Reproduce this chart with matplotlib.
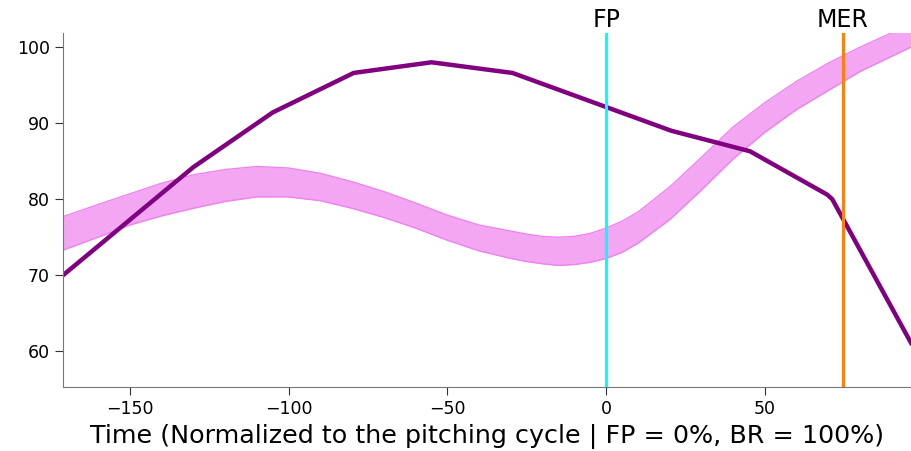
import matplotlib
matplotlib.use('Agg')
import matplotlib.pyplot as plt

# pitcher's curve
pitch_x = [-171, -130, -105, -79.5, -55, -29.5, 20.5, 45.3, 69.6, 71.2, 96]
pitch_y = [70.0, 84.2, 91.4, 96.6, 98.0, 96.6, 89.0, 86.3, 80.6, 80.0, 61.1]

# reference band
band_x = [-171, -160, -150, -140, -130, -120, -110, -100, -90, -80, -70, -60, -50, -40,
          -30, -25, -20, -15, -10, -5, 0, 5, 10, 20, 30, 40, 50, 60, 70, 80, 90, 96]
band_hi = [77.7, 79.3, 80.7, 82.1, 83.2, 83.9, 84.3, 84.1, 83.4, 82.3, 81.0, 79.5, 77.9, 76.6,
           75.8, 75.4, 75.1, 75.0, 75.1, 75.5, 76.2, 77.1, 78.3, 81.6, 85.5, 89.5, 92.7, 95.5,
           97.9, 100.0, 101.9, 103.0]
band_lo = [73.3, 75.0, 76.6, 77.8, 78.8, 79.7, 80.3, 80.3, 79.8, 78.8, 77.6, 76.2, 74.6, 73.2,
           72.2, 71.8, 71.5, 71.3, 71.4, 71.7, 72.2, 73.0, 74.2, 77.3, 81.2, 85.3, 88.8, 91.8,
           94.3, 96.8, 98.8, 100.0]

events = {'FP': 0, 'MER': 74.5}
event_colors = {'FP': 'cyan', 'MER': '#ff7f0e'}

fig = plt.figure(figsize=(9.11, 4.51), dpi=100)
ax = fig.add_axes([0.0692, 0.1419, 0.9308, 0.7849])

ax.fill_between(band_x, band_lo, band_hi, color='violet', alpha=0.7, lw=0)
ax.plot(band_x, band_hi, color='violet', lw=1)
ax.plot(band_x, band_lo, color='violet', lw=1)
ax.plot(pitch_x, pitch_y, color='purple', lw=3.2)

for name, xv in events.items():
    ax.axvline(xv, color=event_colors[name], lw=2.2)
    ax.text(xv, 102.0, name, ha='center', va='bottom', fontsize=17)

ax.set_xlim(-171, 96)
ax.set_ylim(55.3, 101.85)
ax.set_xticks([-150, -100, -50, 0, 50])
ax.set_yticks([60, 70, 80, 90, 100])
ax.tick_params(labelsize=12.5, length=6, color='#333333')
ax.set_xlabel('Time (Normalized to the pitching cycle | FP = 0%, BR = 100%)', fontsize=18.3)

for s in ['top', 'right']:
    ax.spines[s].set_visible(False)
for s in ['left', 'bottom']:
    ax.spines[s].set_color('#777777')

fig.savefig('out.png', dpi=100)
